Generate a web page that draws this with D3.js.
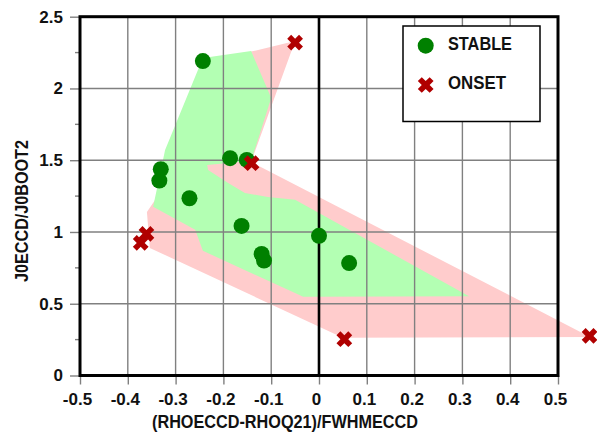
<!DOCTYPE html>
<html>
<head>
<meta charset="utf-8">
<script src="https://cdn.jsdelivr.net/npm/d3@7"></script>
<style>
  html, body { margin: 0; padding: 0; background: #fff; }
  svg { display: block; }
  text { font-family: "Liberation Sans", Arial, Helvetica, sans-serif; font-weight: bold; fill: #111; }
</style>
</head>
<body>
<svg id="chart" width="597" height="435"></svg>
<script>
// Stable operating points
const stableX = [-0.243, -0.331, -0.334, -0.271, -0.186, -0.151, -0.162, -0.120, -0.115, 0.000, 0.063];
const stableY = [2.191, 1.437, 1.358, 1.235, 1.514, 1.502, 1.042, 0.847, 0.801, 0.973, 0.783];

// Onset points
const onsetX = [-0.050, -0.141, -0.361, -0.373, 0.053, 0.566];
const onsetY = [2.319, 1.479, 0.987, 0.924, 0.253, 0.276];

// Shaded region around stable points
const stableRegionX = [-0.243, -0.142, -0.100, -0.140, -0.169, -0.234, -0.232, -0.190, -0.155, -0.107, -0.050, 0.314, -0.033, -0.243, -0.259, -0.347, -0.322];
const stableRegionY = [2.212, 2.261, 1.934, 1.516, 1.488, 1.467, 1.432, 1.342, 1.272, 1.244, 1.224, 0.552, 0.548, 0.869, 1.015, 1.175, 1.572];

// Shaded region around onset points
const onsetRegionX = [-0.142, -0.050, -0.142, 0.567, 0.050, -0.354, -0.360, -0.343, -0.176];
const onsetRegionY = [2.257, 2.331, 1.488, 0.269, 0.263, 0.889, 1.139, 1.223, 2.129];

// Axis ticks
const xTicks = [-0.5, -0.4, -0.3, -0.2, -0.1, 0, 0.1, 0.2, 0.3, 0.4, 0.5];
const xTickLabels = ["-0.5", "-0.4", "-0.3", "-0.2", "-0.1", "0", "0.1", "0.2", "0.3", "0.4", "0.5"];
const yTicks = [0, 0.5, 1, 1.5, 2, 2.5];
const yTickLabels = ["0", "0.5", "1", "1.5", "2", "2.5"];
const yMinorTicks = [0.25, 0.75, 1.25, 1.75, 2.25];

const xTitle = "(RHOECCD-RHOQ21)/FWHMECCD";
const yTitle = "J0ECCD/J0BOOT2";
const legendLabels = ["STABLE", "ONSET"];

const colors = {
  stable: "#008000",
  onset: "#b00000",
  stableFill: "#b3ffb3",
  onsetFill: "#ffcccc",
  grid: "#808080"
};

const svg = d3.select("#chart");
const plotLeft = 80, plotRight = 558, plotTop = 16.7, plotBottom = 375.5;

const x = d3.scaleLinear().domain([-0.5, 0.5]).range([plotLeft, plotRight]);
const y = d3.scaleLinear().domain([0, 2.5]).range([plotBottom, plotTop]);

const line = d3.line().x(d => x(d[0])).y(d => y(d[1])).curve(d3.curveLinearClosed);

// Shaded regions
svg.append("path")
  .datum(d3.zip(onsetRegionX, onsetRegionY))
  .attr("d", line)
  .attr("fill", colors.onsetFill);

svg.append("path")
  .datum(d3.zip(stableRegionX, stableRegionY))
  .attr("d", line)
  .attr("fill", colors.stableFill);

// Grid
const grid = svg.append("g").attr("stroke", colors.grid).attr("stroke-width", 1.4);
grid.selectAll("line.v").data(xTicks).join("line")
  .attr("x1", d => x(d)).attr("x2", d => x(d))
  .attr("y1", plotTop).attr("y2", plotBottom);
grid.selectAll("line.h").data(yTicks).join("line")
  .attr("x1", plotLeft).attr("x2", plotRight)
  .attr("y1", d => y(d)).attr("y2", d => y(d));

// Axes
const xAxis = d3.axisBottom(x)
  .tickValues(xTicks)
  .tickFormat((d, i) => xTickLabels[i])
  .tickSize(9)
  .tickPadding(8);
const gx = svg.append("g").attr("transform", `translate(0,${plotBottom})`).call(xAxis);
gx.select(".domain").remove();
gx.selectAll(".tick line").attr("stroke", colors.grid).attr("stroke-width", 1.4);
gx.selectAll(".tick text")
  .attr("dx", -3)
  .style("font-size", "17px")
  .style("font-family", "'Liberation Sans', Arial, sans-serif")
  .style("font-weight", "bold")
  .attr("fill", "#111");

const yAxis = d3.axisLeft(y)
  .tickValues(yTicks)
  .tickFormat((d, i) => yTickLabels[i])
  .tickSize(10)
  .tickPadding(7);
const gy = svg.append("g").attr("transform", `translate(${plotLeft},0)`).call(yAxis);
gy.select(".domain").remove();
gy.selectAll(".tick line").attr("stroke", colors.grid).attr("stroke-width", 1.4);
gy.selectAll(".tick text")
  .style("font-size", "17px")
  .style("font-family", "'Liberation Sans', Arial, sans-serif")
  .style("font-weight", "bold")
  .attr("fill", "#111");

svg.append("g").attr("stroke", colors.grid).attr("stroke-width", 1.4)
  .selectAll("line").data(yMinorTicks).join("line")
  .attr("x1", plotLeft - 5).attr("x2", plotLeft)
  .attr("y1", d => y(d)).attr("y2", d => y(d));

// Frame and zero line
svg.append("rect")
  .attr("x", plotLeft).attr("y", plotTop)
  .attr("width", plotRight - plotLeft).attr("height", plotBottom - plotTop)
  .attr("fill", "none").attr("stroke", "#000").attr("stroke-width", 3);
svg.append("line")
  .attr("x1", x(0)).attr("x2", x(0))
  .attr("y1", plotTop).attr("y2", plotBottom)
  .attr("stroke", "#000").attr("stroke-width", 2.6);

// Markers
const crossPath = d3.symbol().type(d3.symbolCross).size(155)();

svg.append("g").selectAll("circle")
  .data(d3.zip(stableX, stableY)).join("circle")
  .attr("cx", d => x(d[0])).attr("cy", d => y(d[1]))
  .attr("r", 8)
  .attr("fill", colors.stable);

svg.append("g").selectAll("path")
  .data(d3.zip(onsetX, onsetY)).join("path")
  .attr("d", crossPath)
  .attr("transform", d => `translate(${x(d[0])},${y(d[1])}) rotate(45)`)
  .attr("fill", colors.onset);

// Axis titles
svg.append("text")
  .attr("x", 285).attr("y", 428)
  .attr("text-anchor", "middle")
  .attr("textLength", 266)
  .attr("lengthAdjust", "spacingAndGlyphs")
  .style("font-size", "17.5px")
  .text(xTitle);

svg.append("text")
  .attr("transform", "translate(28,211) rotate(-90)")
  .attr("text-anchor", "middle")
  .attr("textLength", 142)
  .attr("lengthAdjust", "spacingAndGlyphs")
  .style("font-size", "17.5px")
  .text(yTitle);

// Legend
const legend = svg.append("g");
legend.append("rect")
  .attr("x", 403).attr("y", 26)
  .attr("width", 137).attr("height", 95.5)
  .attr("fill", "#fff").attr("stroke", "#000").attr("stroke-width", 1.5);
legend.append("circle")
  .attr("cx", 425.7).attr("cy", 45.7).attr("r", 8)
  .attr("fill", colors.stable);
legend.append("path")
  .attr("d", crossPath)
  .attr("transform", "translate(425.7,85) rotate(45)")
  .attr("fill", colors.onset);
legend.append("text")
  .attr("x", 448).attr("y", 50)
  .attr("textLength", 64)
  .attr("lengthAdjust", "spacingAndGlyphs")
  .style("font-size", "17.5px")
  .text(legendLabels[0]);
legend.append("text")
  .attr("x", 448).attr("y", 89)
  .attr("textLength", 58)
  .attr("lengthAdjust", "spacingAndGlyphs")
  .style("font-size", "17.5px")
  .text(legendLabels[1]);
</script>
</body>
</html>
